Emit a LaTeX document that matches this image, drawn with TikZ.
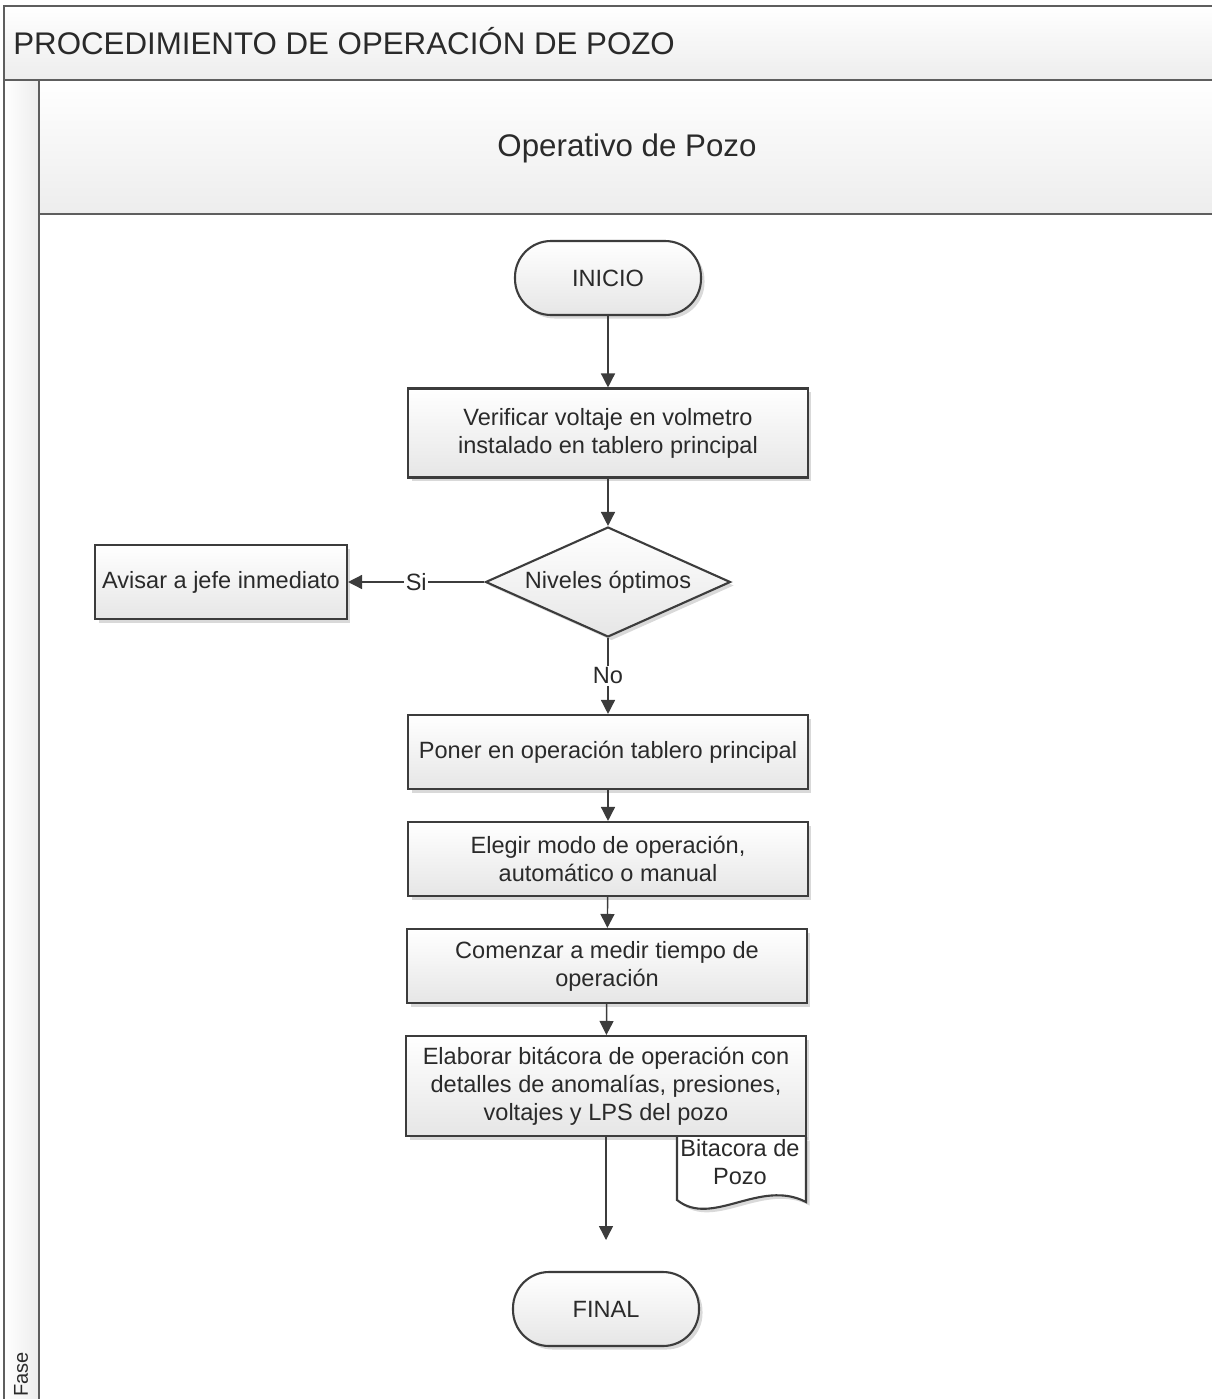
\documentclass[tikz,border=0pt]{standalone}
\usepackage{fontspec}
\setmainfont{Liberation Sans}
\usepackage{xcolor}
\definecolor{lineagris}{HTML}{3C3C3C}
\definecolor{textogris}{HTML}{2A2A2A}
\definecolor{rellenogris}{HTML}{E6E6E6}
\definecolor{bordegris}{HTML}{5E5E5E}
\definecolor{bandagris}{HTML}{EDEDED}
\usepackage{tikz}
\usetikzlibrary{positioning, shapes.geometric, shadows, arrows.meta}
\newcommand{\letracaja}{\fontsize{13.4}{15.9}\selectfont}
\newcommand{\letratitulo}{\fontsize{17.8}{20}\selectfont}

\tikzset{
  caja/.style={draw=lineagris, line width=1.2pt, top color=white, bottom color=rellenogris,
    drop shadow={shadow xshift=2pt, shadow yshift=-2pt, opacity=0.3},
    align=center, text=textogris, font=\letracaja, inner sep=2pt},
  paso/.style={caja, minimum width=8cm, minimum height=1.48cm},
  terminal/.style={caja, rounded corners=0.72cm, minimum width=3.72cm, minimum height=1.48cm},
  decision/.style={caja, diamond, aspect=2.2, inner sep=0pt, minimum width=4.9cm, minimum height=2.2cm},
  flecha/.style={draw=lineagris, line width=0.8pt, -{Triangle[length=0.28cm, width=0.28cm]}},
  etiqueta/.style={fill=white, text=textogris, font=\letracaja, inner sep=1pt},
  marco/.style={draw=bordegris, line width=1.1pt}
}

\begin{document}
\begin{tikzpicture}[x=0.02cm, y=-0.02cm]
  \useasboundingbox (0,0) rectangle (1212,1399);
  \shade[top color=white, bottom color=bandagris] (4,6) rectangle (1212,80);
  \shade[top color=white, bottom color=bandagris] (39,80) rectangle (1212,214);
  \shade[left color=white, right color=bandagris] (4,80) rectangle (39,1399);
  \draw[marco] (1212,6) -- (4,6) -- (4,1399);
  \draw[marco] (4,80) -- (1212,80);
  \draw[marco] (39,80) -- (39,1399);
  \draw[marco] (39,214) -- (1212,214);

  \node (titulo) [anchor=west, text=textogris, font=\letratitulo, inner sep=0pt] at (13,41) {PROCEDIMIENTO DE OPERACIÓN DE POZO};
  \node (carril) [text=textogris, font=\letratitulo, inner sep=0pt] at (627,148) {Operativo de Pozo};
  \node (fase) [rotate=90, anchor=west, text=textogris, font=\fontsize{11.4}{13}\selectfont, inner sep=0pt] at (21,1397) {Fase};

  \node (inicio) [terminal] at (608,278) {INICIO};
  \node (verificar) [paso, minimum height=1.78cm] at (608,433) {Verificar voltaje en volmetro\\instalado en tablero principal};
  \node (niveles) [decision] at (608,582) {Niveles óptimos};
  \node (avisar) [caja, minimum width=5.04cm, minimum height=1.48cm] at (221,582) {Avisar a jefe inmediato};
  \node (poner) [paso] at (608,752) {Poner en operación tablero principal};
  \node (elegir) [paso] at (608,859) {Elegir modo de operación,\\automático o manual};
  \node (comenzar) [paso] at (607,966) {Comenzar a medir tiempo de\\operación};
  \node (elaborar) [paso, minimum height=2cm] at (606,1086) {Elaborar bitácora de operación con\\detalles de anomalías, presiones,\\voltajes y LPS del pozo};
  \node (final) [terminal] at (606,1309) {FINAL};
  \coordinate (fin) at (606,1240);

  \fill[white, drop shadow={shadow xshift=2pt, shadow yshift=-2pt, opacity=0.3}]
    (677,1137) -- (677,1200) .. controls (712,1228) and (760,1178) .. (806,1202) -- (806,1137) -- cycle;
  \draw[draw=lineagris, line width=1.2pt]
    (677,1137) -- (677,1200) .. controls (712,1228) and (760,1178) .. (806,1202) -- (806,1137);
  \node (bitacora) [align=center, text=textogris, font=\letracaja, inner sep=0pt] at (740,1162) {Bitacora de\\Pozo};

  \draw[flecha] (inicio) -- (verificar);
  \draw[flecha] (verificar) -- (niveles);
  \draw[flecha] (niveles) -- node[etiqueta] {Si} (avisar);
  \draw[flecha] (niveles) -- node[etiqueta] {No} (poner);
  \draw[flecha] (poner) -- (elegir);
  \draw[flecha] (elegir) -- (comenzar);
  \draw[flecha] (comenzar) -- (elaborar);
  \draw[flecha] (elaborar) -- (fin);
\end{tikzpicture}
\end{document}
